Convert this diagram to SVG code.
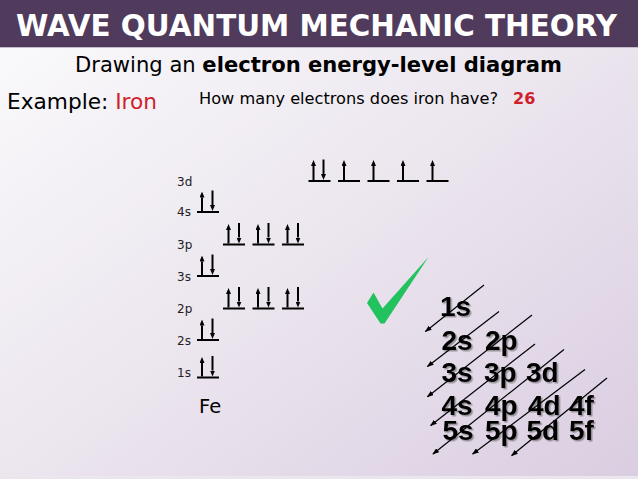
<svg xmlns="http://www.w3.org/2000/svg" width="638" height="479" viewBox="0 0 638 479">
<defs>
<linearGradient id="bg" x1="0" y1="0" x2="1" y2="1">
<stop offset="0" stop-color="#fbfbfc"/>
<stop offset="0.5" stop-color="#ece6ef"/>
<stop offset="1" stop-color="#dacde1"/>
</linearGradient>
<marker id="oh" viewBox="0 0 6 5" refX="0" refY="2.5" markerWidth="6" markerHeight="5" markerUnits="userSpaceOnUse" orient="auto">
<path d="M0,0 L6,2.5 L0,5 Z" fill="#000"/>
</marker>
<marker id="dh" viewBox="0 0 7 5" refX="6" refY="2.5" markerWidth="7" markerHeight="5" markerUnits="userSpaceOnUse" orient="auto">
<path d="M0,0 L7,2.5 L0,5 Z" fill="#000"/>
</marker>
<filter id="sh" x="-10%" y="-10%" width="130%" height="140%">
<feDropShadow dx="1.5" dy="1.5" stdDeviation="0.7" flood-color="#555" flood-opacity="0.55"/>
</filter>
</defs>
<style>
.dv{font-family:"DejaVu Sans","Verdana",sans-serif}
.lv{font-family:"DejaVu Sans",sans-serif;font-size:12px;fill:#222}
.ln{stroke:#000;stroke-width:2;fill:none}
.ar{stroke:#000;stroke-width:2;fill:none;marker-end:url(#oh)}
.ab{font-family:"Liberation Sans",Arial,sans-serif;font-weight:bold;font-size:28px;fill:#000;filter:url(#sh)}
.dg{stroke:#000;stroke-width:1.2;fill:none;marker-end:url(#dh)}
.red{fill:#d01f2b}
</style>
<rect x="0" y="0" width="638" height="479" fill="url(#bg)"/>
<rect x="0" y="476" width="638" height="3" fill="#ebe5ee"/>
<g id="title">
<rect x="0" y="0" width="638" height="47" fill="#513b5d"/>
<line x1="0" y1="47.5" x2="638" y2="47.5" stroke="#c4bcc8" stroke-width="1"/>
<text class="dv" x="316.5" y="35.5" text-anchor="middle" font-size="29.3" font-weight="bold" fill="#fff" textLength="601" lengthAdjust="spacingAndGlyphs">WAVE QUANTUM MECHANIC THEORY</text>
</g>
<g id="subtitle">
<text class="dv" x="75" y="72" font-size="20.5" fill="#000" textLength="487" lengthAdjust="spacingAndGlyphs">Drawing an <tspan font-weight="bold">electron energy-level diagram</tspan></text>
</g>
<g id="example">
<text class="dv" x="7" y="108.5" font-size="20.5" fill="#000" textLength="150" lengthAdjust="spacingAndGlyphs">Example: <tspan class="red">Iron</tspan></text>
</g>
<g id="question">
<text class="dv" x="199" y="104" font-size="15.5" fill="#000" textLength="299" lengthAdjust="spacingAndGlyphs">How many electrons does iron have?</text>
<text class="dv red" x="513" y="104" font-size="16" font-weight="bold">26</text>
</g>
<g id="level-3d">
<text class="lv" x="177" y="186">3d</text>
<path class="ln" d="M308.5,181 h22 M338,181 h22 M367.5,181 h22 M397,181 h22 M426.5,181 h22"/>
<path class="ar" d="M313.5,180 V166"/>
<path class="ar" d="M323.5,159.5 V174"/>
<path class="ar" d="M344,180 V166"/>
<path class="ar" d="M373.5,180 V166"/>
<path class="ar" d="M403,180 V166"/>
<path class="ar" d="M432.5,180 V166"/>
</g>
<g id="level-4s">
<text class="lv" x="177" y="216">4s</text>
<path class="ln" d="M197,212 h22"/>
<path class="ar" d="M202,211 V197.5"/>
<path class="ar" d="M212.5,190.5 V205"/>
</g>
<g id="level-3p">
<text class="lv" x="177" y="249">3p</text>
<path class="ln" d="M223,244.5 h22 M252.5,244.5 h22 M282,244.5 h22"/>
<path class="ar" d="M228.5,243.5 V230"/>
<path class="ar" d="M239,223 V237.5"/>
<path class="ar" d="M258,243.5 V230"/>
<path class="ar" d="M268.5,223 V237.5"/>
<path class="ar" d="M287.5,243.5 V230"/>
<path class="ar" d="M298,223 V237.5"/>
</g>
<g id="level-3s">
<text class="lv" x="177" y="280.5">3s</text>
<path class="ln" d="M197,276 h22"/>
<path class="ar" d="M202,275 V261.5"/>
<path class="ar" d="M212.5,254.5 V269"/>
</g>
<g id="level-2p">
<text class="lv" x="177" y="313">2p</text>
<path class="ln" d="M223,308.5 h22 M252.5,308.5 h22 M282,308.5 h22"/>
<path class="ar" d="M228.5,307.5 V294"/>
<path class="ar" d="M239,287 V301.5"/>
<path class="ar" d="M258,307.5 V294"/>
<path class="ar" d="M268.5,287 V301.5"/>
<path class="ar" d="M287.5,307.5 V294"/>
<path class="ar" d="M298,287 V301.5"/>
</g>
<g id="level-2s">
<text class="lv" x="177" y="344.5">2s</text>
<path class="ln" d="M197,340 h22"/>
<path class="ar" d="M202,339 V325.5"/>
<path class="ar" d="M212.5,318.5 V333"/>
</g>
<g id="level-1s">
<text class="lv" x="177" y="377">1s</text>
<path class="ln" d="M197,377.5 h22"/>
<path class="ar" d="M202,376.5 V363"/>
<path class="ar" d="M212.5,356 V370.5"/>
</g>
<g id="element">
<text class="dv" x="199" y="413" font-size="19.5" fill="#000">Fe</text>
</g>
<g id="checkmark">
<path d="M367,303 L373.5,292.5 L382.5,308.5 L428.5,257 L384.5,323.5 L380.5,323.5 Z" fill="#22c25e"/>
</g>
<g id="aufbau-chart">
<text class="ab" x="440" y="316">1s</text>
<text class="ab" x="441.5" y="349.5">2s</text>
<text class="ab" x="485" y="349.5">2p</text>
<text class="ab" x="441.5" y="382">3s</text>
<text class="ab" x="484" y="382">3p</text>
<text class="ab" x="526" y="382">3d</text>
<text class="ab" x="441.5" y="415">4s</text>
<text class="ab" x="485" y="415">4p</text>
<text class="ab" x="528" y="415">4d</text>
<text class="ab" x="569" y="415">4f</text>
<text class="ab" x="442.5" y="439.5">5s</text>
<text class="ab" x="485" y="439.5">5p</text>
<text class="ab" x="526.5" y="439.5">5d</text>
<text class="ab" x="569" y="439.5">5f</text>
</g>
<g id="connectors">
<path class="dg" d="M484,285 L425.5,331.5"/>
<path class="dg" d="M499,311.5 L427.5,366.5"/>
<path class="dg" d="M532,315 L427.5,396.7"/>
<path class="dg" d="M535,344 L430.7,425.5"/>
<path class="dg" d="M564,349.5 L433,454"/>
<path class="dg" d="M585,369.5 L472.7,454"/>
<path class="dg" d="M607,378 L511.7,455.5"/>
</g>
</svg>
